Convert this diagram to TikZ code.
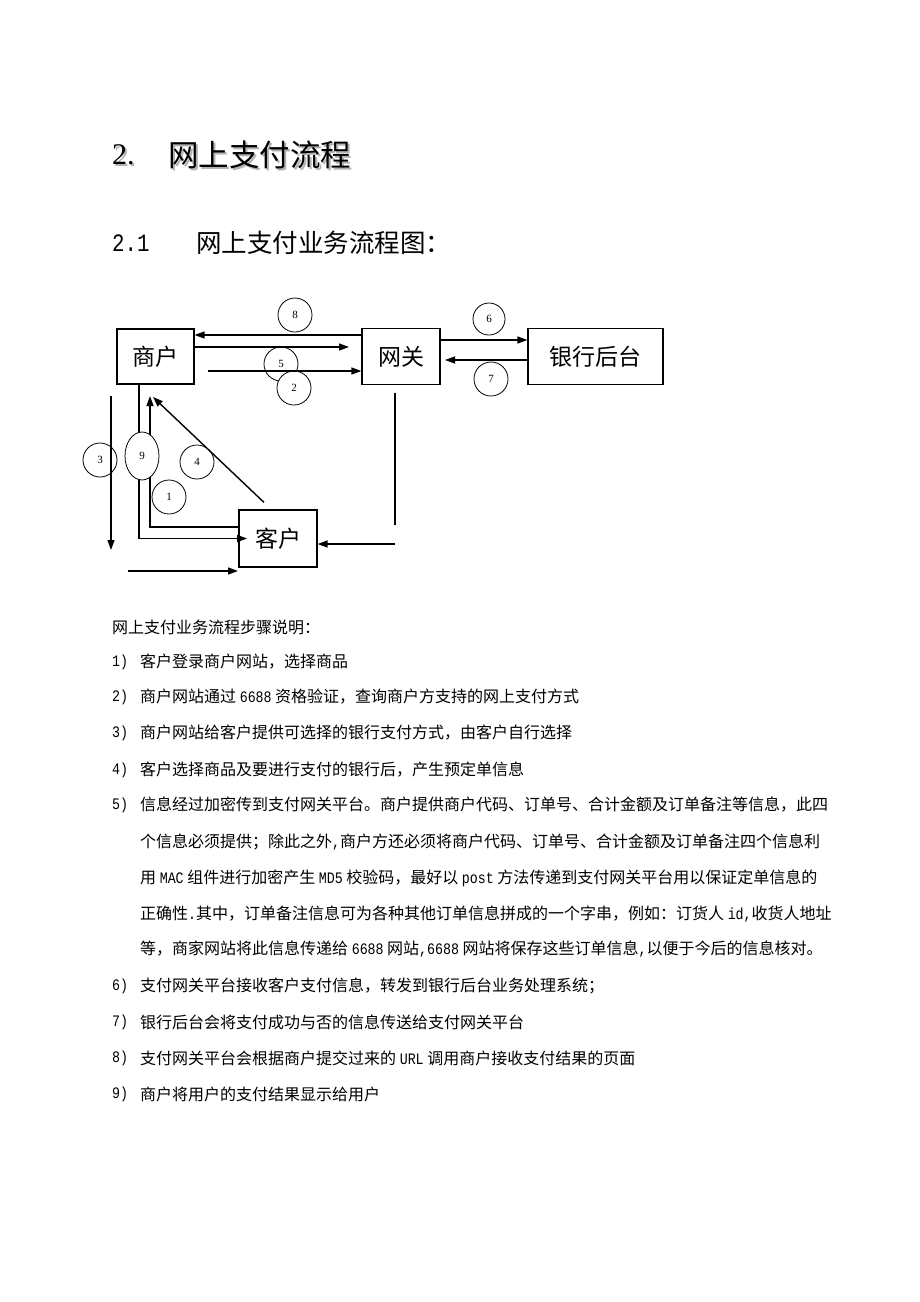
\documentclass[tikz,border=0pt]{standalone}
\usepackage{fontspec}
\usetikzlibrary{arrows.meta,shapes.geometric}
\setmainfont{Noto Sans CJK SC}
\newfontfamily\halffont[FakeStretch=0.83]{Liberation Mono}
\newfontfamily\romanfont{Liberation Serif}
\newcommand\hw[1]{{\halffont\fontsize{16}{16}\selectfont #1}}
\XeTeXlinebreaklocale "zh"
\XeTeXlinebreakskip = 0pt plus 2pt
\begin{document}
\begin{tikzpicture}
[x=1pt,y=-1pt,>={Triangle[length=10pt,width=7pt]},
box/.style = {draw, line width=1.2pt, inner sep=0pt, font=\fontsize{23}{23}\selectfont},
stepno/.style = {draw, circle, line width=0.8pt, minimum size=34pt, inner sep=0pt, font=\romanfont\fontsize{11}{11}\selectfont},
flow/.style = {->, line width=1.4pt},
body/.style = {anchor=west, inner sep=0pt, font=\fontsize{16}{16}\selectfont},
fullline/.style = {body, text width=695pt, align=justify},]
\path[use as bounding box, fill=white] (0,0) rectangle (920,1302);
\node (titleshadow) at (114,157)[anchor=west, inner sep=0pt, text=black!30, font=\romanfont\fontsize{30}{30}\selectfont] {2.};
\node (title) at (112,155)[anchor=west, inner sep=0pt, font=\romanfont\fontsize{30}{30}\selectfont] {2.};
\node (headshadow) at (170,157)[anchor=west, inner sep=0pt, text=black!30, font=\fontsize{30.5}{30}\selectfont] {网上支付流程};
\node (head) at (168,155)[anchor=west, inner sep=0pt, font=\fontsize{30.5}{30}\selectfont] {网上支付流程};
\node (subno) at (112,243)[anchor=west, inner sep=0pt, font=\halffont\fontsize{25}{25}\selectfont] {2.1};
\node (sub) at (196,243)[anchor=west, inner sep=0pt, font=\fontsize{25.5}{26}\selectfont] {网上支付业务流程图：};
\node (merchant) at (155.5,356.5)[box, minimum width=77pt, minimum height=55pt] {商户};
\node (gateway) at (401,356.5)[box, minimum width=78pt, minimum height=56pt] {网关};
\node (bank) at (595.5,356.5)[box, minimum width=135pt, minimum height=56pt] {银行后台};
\node (customer) at (278,538.5)[box, minimum width=78pt, minimum height=57pt] {客户};
\node (c8) at (295,315)[stepno] {8};
\node (c5) at (281,364)[stepno] {5};
\node (c2) at (294,388)[stepno, fill=white] {2};
\node (c6) at (489,319)[stepno, minimum size=32pt] {6};
\node (c7) at (491,379)[stepno] {7};
\node (c3) at (100,460)[stepno] {3};
\node (c4) at (197,462)[stepno] {4};
\node (c1) at (169,497)[stepno] {1};
\coordinate (e5) at (349,347);
\coordinate (s2) at (208,371);
\coordinate (e7) at (445,360);
\coordinate (g1) at (395,393);
\coordinate (g2) at (395,525);
\coordinate (s4) at (395,544);
\coordinate (s3) at (111,396);
\coordinate (e3) at (111,550);
\coordinate (e9) at (247,538.5);
\coordinate (e1) at (150,396);
\coordinate (e4) at (153,397);
\coordinate (s0) at (128,571);
\coordinate (e0) at (238,571);
\draw[flow] ([yshift=21.5pt]gateway.west) -- ([yshift=21.5pt]merchant.east);
\draw[flow] ([yshift=9.5pt]merchant.east) -- (e5);
\draw[flow] (s2) -- (gateway.west |- s2);
\draw[flow] ([yshift=16.5pt]gateway.east) -- ([yshift=16.5pt]bank.west);
\draw[flow] (bank.west |- e7) -- (e7);
\draw[line width=1.2pt] (g1) -- (g2);
\draw[flow] (s4) -- (customer.east |- s4);
\draw[flow] (s3) -- (e3);
\draw[flow] ([xshift=-16.5pt]merchant.south) |- (e9);
\draw[flow] ([yshift=11.5pt]customer.west) -| (e1);
\draw[flow] ([xshift=-14pt,yshift=7pt]customer.north) -- (e4);
\draw[flow] (s0) -- (e0);
\node (c9) at (142,456)[stepno, ellipse, minimum width=34pt, minimum height=48pt, fill=white] {9};
\node (intro) at (112,627)[body] {网上支付业务流程步骤说明：};
\node (n1) at (112,662)[body] {\hw{1)}};
\node (t1) at (140,662)[body] {客户登录商户网站，选择商品};
\node (n2) at (112,697)[body] {\hw{2)}};
\node (t2) at (140,697)[body] {商户网站通过 \hw{6688} 资格验证，查询商户方支持的网上支付方式};
\node (n3) at (112,733)[body] {\hw{3)}};
\node (t3) at (140,733)[body] {商户网站给客户提供可选择的银行支付方式，由客户自行选择};
\node (n4) at (112,770)[body] {\hw{4)}};
\node (t4) at (140,770)[body] {客户选择商品及要进行支付的银行后，产生预定单信息};
\node (n5) at (112,805)[body] {\hw{5)}};
\node (t5a) at (140,805)[fullline] {\parfillskip=0pt 信息经过加密传到支付网关平台。商户提供商户代码、订单号、合计金额及订单备注等信息，此四};
\node (t5b) at (140,842)[fullline] {\parfillskip=0pt 个信息必须提供；除此之外\hw{,}商户方还必须将商户代码、订单号、合计金额及订单备注四个信息利};
\node (t5c) at (140,878)[fullline] {\parfillskip=0pt 用 \hw{MAC} 组件进行加密产生 \hw{MD5} 校验码，最好以 \hw{post} 方法传递到支付网关平台用以保证定单信息的};
\node (t5d) at (140,914)[fullline] {\parfillskip=0pt 正确性\hw{.}其中，订单备注信息可为各种其他订单信息拼成的一个字串，例如：订货人 \hw{id,}收货人地址};
\node (t5e) at (140,949)[body] {等，商家网站将此信息传递给 \hw{6688} 网站\hw{,6688} 网站将保存这些订单信息\hw{,}以便于今后的信息核对。};
\node (n6) at (112,986)[body] {\hw{6)}};
\node (t6) at (140,986)[body] {支付网关平台接收客户支付信息，转发到银行后台业务处理系统；};
\node (n7) at (112,1022)[body] {\hw{7)}};
\node (t7) at (140,1022)[body] {银行后台会将支付成功与否的信息传送给支付网关平台};
\node (n8) at (112,1058)[body] {\hw{8)}};
\node (t8) at (140,1058)[body] {支付网关平台会根据商户提交过来的 \hw{URL} 调用商户接收支付结果的页面};
\node (n9) at (112,1094)[body] {\hw{9)}};
\node (t9) at (140,1094)[body] {商户将用户的支付结果显示给用户};
\end{tikzpicture}
\end{document}
